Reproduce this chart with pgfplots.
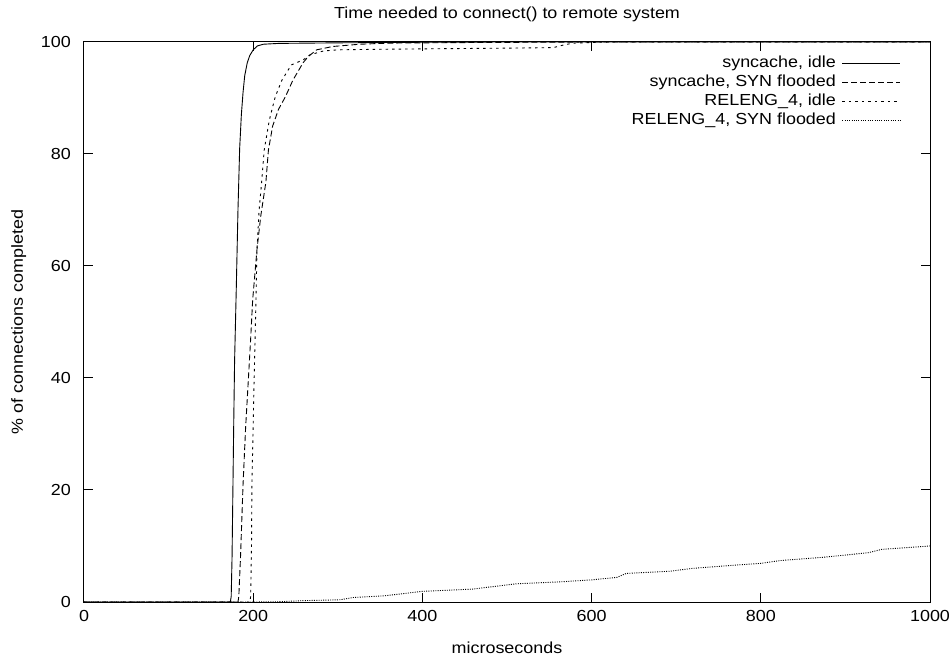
\documentclass[border=0pt]{standalone}
\usepackage{fontspec}
\setmainfont[FakeStretch=1.12]{Liberation Sans}
\usepackage{pgfplots}
\pgfplotsset{compat=1.18}

\begin{document}
\begin{tikzpicture}[font=\fontsize{16bp}{19bp}\selectfont]
\begin{axis}[
    scale only axis, width=846bp, height=560bp,
    xmin=0, xmax=1000, ymin=0, ymax=100,
    xtick={0,200,...,1000}, ytick={0,20,...,100},
    /pgf/number format/assume math mode=true,
    /pgf/number format/1000 sep={},
    tick align=inside, major tick length=9bp,
    every tick/.style={black, line width=1bp},
    axis line style={line width=1bp},
    xticklabel style={inner sep=0pt, anchor=north, yshift=-8bp},
    yticklabel style={inner sep=0pt, anchor=east, xshift=-13bp},
    title={Time needed to connect() to remote system},
    title style={at={(axis description cs:0.5,1.039)}, anchor=center, inner sep=0pt},
    xlabel={microseconds},
    xlabel style={at={(axis description cs:0.5,-0.082)}, anchor=center, inner sep=0pt},
    ylabel={\% of connections completed},
    ylabel style={at={(axis description cs:-0.077,0.5)}, anchor=center, inner sep=0pt},
    legend style={at={(1,1)}, anchor=north east, xshift=-26bp, yshift=-10bp,
        draw=none, fill=none, row sep=0pt, column sep=5bp,
        nodes={inner sep=1bp, text height=12bp, text depth=5bp},
        cells={anchor=east}},
    legend plot pos=right,
    legend image code/.code={\draw[#1] (0bp,0bp) -- (58bp,0bp);},
    every axis plot/.append style={black, line width=0.9bp},
]
% syncache, idle
\addplot[solid] coordinates {
(0,0)(173,0)(174,1)(175,8)(176,20)(177,32)(178,43)(180,56)(182,70)(184,81)
(186,87)(188,91)(190,94)(193,96.3)(196,97.6)(200,98.6)(205,99.3)(212,99.6)
(230,99.75)(300,99.85)(400,99.95)(500,100)(1000,100)
};
\addlegendentry{syncache, idle}
% syncache, SYN flooded
\addplot[dash pattern=on 6bp off 3bp] coordinates {
(0,0)(182,0)(183,1)(185,8)(188,21)(191,31)(194,39)(197,47)(199.4,54)(204.5,63)
(209,69)(215,75)(218,80.7)(223,85)(230,88)(238,90.2)(247,93.2)(259,96.3)
(265,97.4)(275,98.6)(294,99.2)(326,99.6)(360,99.8)(450,99.9)(600,100)(1000,100)
};
\addlegendentry{syncache, SYN flooded}
% RELENG_4, idle
\addplot[dash pattern=on 2.5bp off 4bp] coordinates {
(0,0)(196,0)(197,1)(198,10)(198.5,21)(201,39)(203.3,54)(204.5,63)(207,70)
(210,75)(213,80.7)(219,86)(226,90.2)(234,93.2)(245,95.9)(259,96.8)(267,97.7)
(283,98.4)(300,98.6)(350,98.7)(420,98.8)(500,98.9)(555,99.0)(565,99.4)
(578,99.8)(600,99.9)(620,100)(1000,100)
};
\addlegendentry{RELENG\_4, idle}
% RELENG_4, SYN flooded
\addplot[dash pattern=on 1bp off 1.3bp] coordinates {
(0,0)(200,0)(230,0.05)(261,0.25)(290,0.35)(303,0.4)(318,0.8)(355,1.1)(400,1.9)
(459,2.3)(511,3.25)(563,3.6)(600,3.95)(630,4.4)(641,5.1)(693,5.5)(719,6.0)
(771,6.6)(800,6.9)(823,7.4)(875,8.0)(927,8.8)(943,9.4)(1000,10.0)
};
\addlegendentry{RELENG\_4, SYN flooded}
\end{axis}
\pgfresetboundingbox
\path ([xshift=-84bp,yshift=-57bp]current axis.south west) rectangle
      ([xshift=19bp,yshift=42bp]current axis.north east);
\end{tikzpicture}
\end{document}
